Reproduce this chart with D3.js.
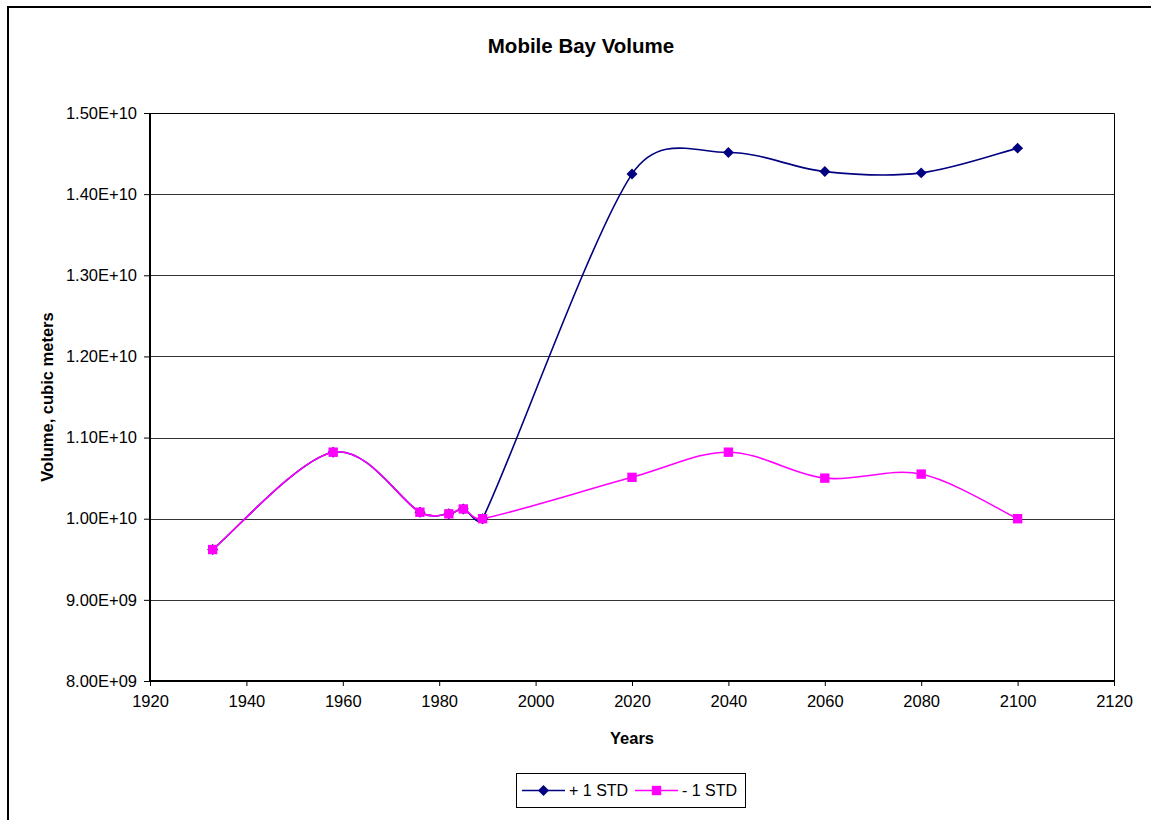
<!DOCTYPE html>
<html>
<head>
<meta charset="utf-8">
<script src="https://cdn.jsdelivr.net/npm/d3@7"></script>
<style>
  html, body { margin: 0; padding: 0; background: #fff; }
  svg { display: block; font-family: "Liberation Sans", Arial, sans-serif; }
</style>
</head>
<body>
<svg id="chart" width="1151" height="820"></svg>
<script>
// Mobile Bay volume projections, +/- one standard deviation
const years = [1933, 1958, 1976, 1982, 1985, 1989, 2020, 2040, 2060, 2080, 2100];
const plusStd = [9.62e9, 1.082e10, 1.008e10, 1.006e10, 1.012e10, 1.000e10, 1.4247e10, 1.4513e10, 1.4278e10, 1.4262e10, 1.4567e10];
const minusStd = [9.62e9, 1.082e10, 1.008e10, 1.006e10, 1.012e10, 1.000e10, 1.051e10, 1.082e10, 1.050e10, 1.055e10, 1.000e10];
const seriesNames = ["+ 1 STD", "- 1 STD"];
const xTicks = [1920, 1940, 1960, 1980, 2000, 2020, 2040, 2060, 2080, 2100, 2120];
const yTicks = [8e9, 9e9, 1e10, 1.1e10, 1.2e10, 1.3e10, 1.4e10, 1.5e10];

const svg = d3.select("#chart");
const plot = { left: 150, right: 1114, top: 113, bottom: 681 };

const x = d3.scaleLinear().domain([1920, 2120]).range([plot.left, plot.right]);
const y = d3.scaleLinear().domain([8e9, 1.5e10]).range([plot.bottom, plot.top]);

// Scientific labels like 1.50E+10 / 9.00E+09
function sci(v) {
  const s = d3.format(".2e")(v); // e.g. 1.50e+10
  const m = s.match(/^(.*)e([+-])(\d+)$/);
  return m[1] + "E" + m[2] + m[3].padStart(2, "0");
}

// Outer chart frame
svg.append("path")
  .attr("d", "M8,830 L8,7 L1160,7")
  .attr("fill", "none").attr("stroke", "#000").attr("stroke-width", 2);

// Title
svg.append("text")
  .attr("x", 581).attr("y", 53)
  .attr("text-anchor", "middle")
  .attr("font-size", 20.5).attr("font-weight", "bold")
  .text("Mobile Bay Volume");

// Horizontal gridlines
svg.append("g").selectAll("line")
  .data(yTicks.filter(t => t > 8e9 && t < 1.5e10))
  .join("line")
  .attr("x1", plot.left).attr("x2", plot.right)
  .attr("y1", d => Math.round(y(d)) + 0.5).attr("y2", d => Math.round(y(d)) + 0.5)
  .attr("stroke", "#333").attr("stroke-width", 1);

// Plot area border (top and right)
svg.append("path")
  .attr("d", `M${plot.left},${plot.top + 0.5} H${plot.right + 0.5} V${plot.bottom}`)
  .attr("fill", "none").attr("stroke", "#000").attr("stroke-width", 1);

// Y axis
const yAxis = d3.axisLeft(y).tickValues(yTicks).tickFormat(sci).tickSize(6).tickPadding(7);
const gy = svg.append("g").attr("transform", `translate(${plot.left},0)`).call(yAxis);
gy.select(".domain").attr("stroke-width", 2).attr("d", `M0,${plot.top}V${plot.bottom}`);
gy.selectAll(".tick line").attr("stroke", "#000");
gy.selectAll(".tick text").attr("font-size", 16.5).attr("font-family", "Liberation Sans, Arial, sans-serif").attr("fill", "#000");

// X axis
const xAxis = d3.axisBottom(x).tickValues(xTicks).tickFormat(d3.format("d")).tickSize(5).tickPadding(9);
const gx = svg.append("g").attr("transform", `translate(0,${plot.bottom})`).call(xAxis);
gx.select(".domain").attr("stroke-width", 2).attr("d", `M${plot.left},0H${plot.right}`);
gx.selectAll(".tick line").attr("stroke", "#000");
gx.selectAll(".tick text").attr("font-size", 16.5).attr("font-family", "Liberation Sans, Arial, sans-serif").attr("fill", "#000");

// Axis titles
svg.append("text")
  .attr("x", (plot.left + plot.right) / 2).attr("y", 744)
  .attr("text-anchor", "middle").attr("font-size", 16.5).attr("font-weight", "bold")
  .text("Years");
svg.append("text")
  .attr("transform", `translate(53,${(plot.top + plot.bottom) / 2}) rotate(-90)`)
  .attr("text-anchor", "middle").attr("font-size", 16.5).attr("font-weight", "bold")
  .text("Volume, cubic meters");

// Smoothed line in the spreadsheet style: cubic Bezier segments whose
// control arms are 1/6 of the neighbour chord, capped at half the segment.
function smoothPath(pts) {
  const p = d3.path();
  const dist = (a, b) => Math.hypot(b[0] - a[0], b[1] - a[1]);
  p.moveTo(pts[0][0], pts[0][1]);
  for (let i = 0; i < pts.length - 1; i++) {
    const p0 = pts[Math.max(i - 1, 0)], p1 = pts[i], p2 = pts[i + 1], p3 = pts[Math.min(i + 2, pts.length - 1)];
    const d12 = dist(p1, p2), d02 = dist(p0, p2), d13 = dist(p1, p3);
    let f1 = 1 / 6, f2 = 1 / 6;
    if (d02 > 0 && d02 / 6 > d12 / 2) f1 = d12 / (2 * d02);
    if (d13 > 0 && d13 / 6 > d12 / 2) f2 = d12 / (2 * d13);
    const c1 = [p1[0] + (p2[0] - p0[0]) * f1, p1[1] + (p2[1] - p0[1]) * f1];
    const c2 = [p2[0] - (p3[0] - p1[0]) * f2, p2[1] - (p3[1] - p1[1]) * f2];
    p.bezierCurveTo(c1[0], c1[1], c2[0], c2[1], p2[0], p2[1]);
  }
  return p.toString();
}

const series = [
  { name: seriesNames[0], values: plusStd, color: "#000080", marker: "diamond" },
  { name: seriesNames[1], values: minusStd, color: "#FF00FF", marker: "square" }
];

const diamond = d3.symbol(d3.symbolSquare, 60);
const square = d3.symbol(d3.symbolSquare, 88);

function drawMarker(g, kind, color, cx, cy) {
  g.append("path")
    .attr("d", kind === "diamond" ? diamond() : square())
    .attr("transform", `translate(${cx},${cy})` + (kind === "diamond" ? " rotate(45)" : ""))
    .attr("fill", color);
}

series.forEach(s => {
  const pts = years.map((yr, i) => [x(yr), y(s.values[i])]);
  const g = svg.append("g");
  g.append("path")
    .attr("d", smoothPath(pts))
    .attr("fill", "none").attr("stroke", s.color).attr("stroke-width", 1.6);
  pts.forEach(pt => drawMarker(g, s.marker, s.color, pt[0], pt[1]));
});

// Legend
const legend = svg.append("g");
legend.append("rect")
  .attr("x", 516.5).attr("y", 773.5).attr("width", 229).attr("height", 34)
  .attr("fill", "#fff").attr("stroke", "#000").attr("stroke-width", 1);
const legendItems = [
  { x0: 522, x1: 565, tx: 569 },
  { x0: 635, x1: 678, tx: 682 }
];
series.forEach((s, i) => {
  const it = legendItems[i];
  legend.append("line")
    .attr("x1", it.x0).attr("x2", it.x1).attr("y1", 790.5).attr("y2", 790.5)
    .attr("stroke", s.color).attr("stroke-width", 1.6);
  drawMarker(legend, s.marker, s.color, (it.x0 + it.x1) / 2, 790.5);
  legend.append("text")
    .attr("x", it.tx).attr("y", 796)
    .attr("font-size", 16)
    .text(s.name);
});
</script>
</body>
</html>
